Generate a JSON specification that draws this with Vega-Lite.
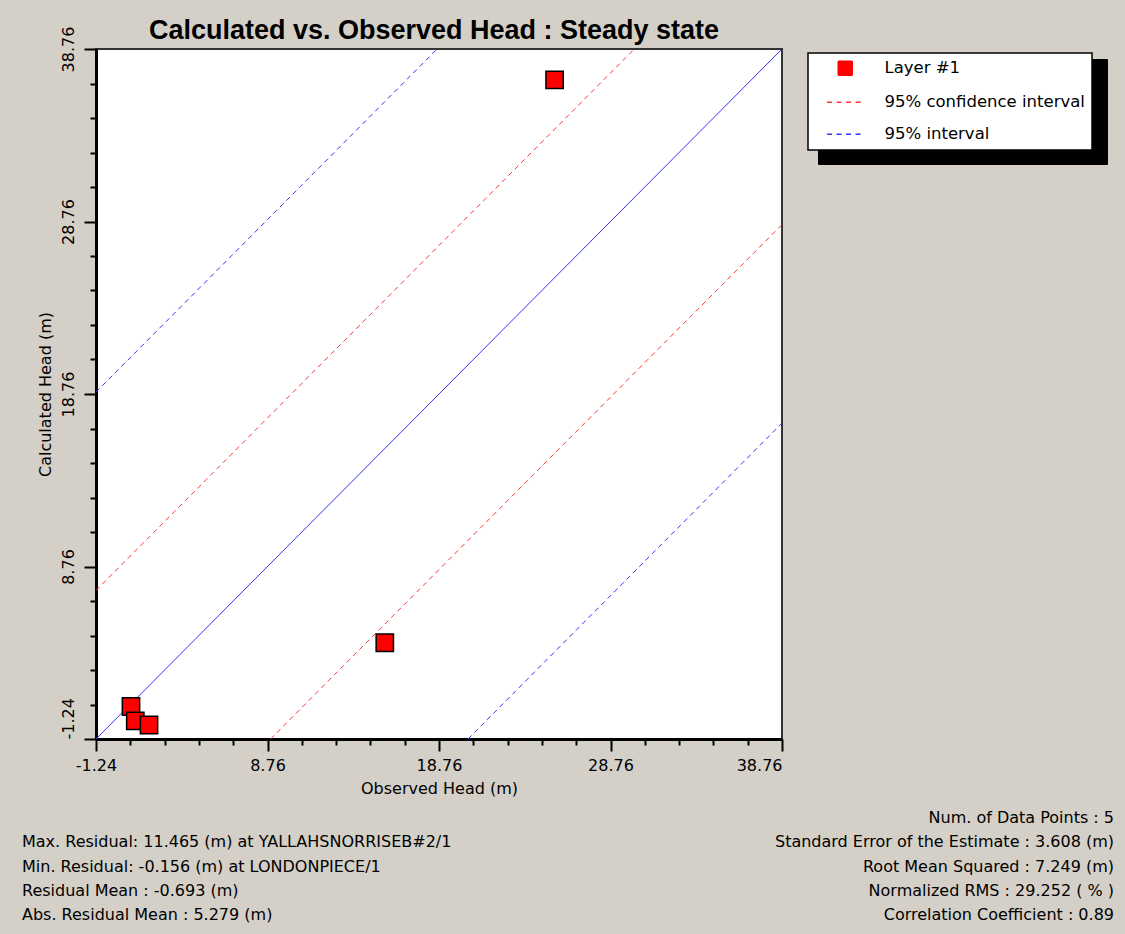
{
  "$schema": "https://vega.github.io/schema/vega-lite/v6.json",
  "background": "#d4d0c8",
  "padding": {"left": 22, "right": 11, "top": 16, "bottom": 11},
  "datasets": {
    "points": [
      {"series": "Layer #1", "well": "YALLAHSNORRISEB#2/1", "obs": 25.5, "calc": 36.965},
      {"series": "Layer #1", "well": "", "obs": 15.6, "calc": 4.34},
      {"series": "Layer #1", "well": "LONDONPIECE/1", "obs": 0.8, "calc": 0.644},
      {"series": "Layer #1", "well": "", "obs": 1.05, "calc": -0.19},
      {"series": "Layer #1", "well": "", "obs": 1.85, "calc": -0.43}
    ],
    "lines": [
      {"series": "1:1", "line": "1:1", "obs": -1.24, "calc": -1.24},
      {"series": "1:1", "line": "1:1", "obs": 38.76, "calc": 38.76},
      {"series": "95% confidence interval", "line": "ci_upper", "obs": -1.24, "calc": 7.37},
      {"series": "95% confidence interval", "line": "ci_upper", "obs": 30.15, "calc": 38.76},
      {"series": "95% confidence interval", "line": "ci_lower", "obs": 8.94, "calc": -1.24},
      {"series": "95% confidence interval", "line": "ci_lower", "obs": 38.76, "calc": 28.58},
      {"series": "95% interval", "line": "pi_upper", "obs": -1.24, "calc": 18.87},
      {"series": "95% interval", "line": "pi_upper", "obs": 18.65, "calc": 38.76},
      {"series": "95% interval", "line": "pi_lower", "obs": 20.45, "calc": -1.24},
      {"series": "95% interval", "line": "pi_lower", "obs": 38.76, "calc": 17.07}
    ],
    "stats": [
      {"col": "right", "row": 1, "text": "Num. of Data Points : 5"},
      {"col": "right", "row": 2, "text": "Standard Error of the Estimate : 3.608 (m)"},
      {"col": "right", "row": 3, "text": "Root Mean Squared : 7.249 (m)"},
      {"col": "right", "row": 4, "text": "Normalized RMS : 29.252 ( % )"},
      {"col": "right", "row": 5, "text": "Correlation Coefficient : 0.89"},
      {"col": "left", "row": 2, "text": "Max. Residual: 11.465 (m) at YALLAHSNORRISEB#2/1"},
      {"col": "left", "row": 3, "text": "Min. Residual: -0.156 (m) at LONDONPIECE/1"},
      {"col": "left", "row": 4, "text": "Residual Mean : -0.693 (m)"},
      {"col": "left", "row": 5, "text": "Abs. Residual Mean : 5.279 (m)"}
    ]
  },
  "config": {
    "view": {"stroke": null},
    "font": "DejaVu Sans",
    "axis": {
      "grid": false,
      "domainColor": "black",
      "domainWidth": 3,
      "tickColor": "black",
      "tickWidth": 2,
      "labelColor": "black",
      "labelFont": "DejaVu Sans",
      "labelFontSize": 16,
      "titleFont": "DejaVu Sans",
      "titleFontSize": 16,
      "titleFontWeight": "normal",
      "titleColor": "black",
      "labelFlush": false,
      "labelOverlap": false
    }
  },
  "vconcat": [
    {
      "width": 686,
      "height": 690,
      "view": {"fill": "white", "stroke": "#333333", "strokeWidth": 2},
      "title": {
        "text": "Calculated vs. Observed Head : Steady state",
        "font": "Liberation Sans",
        "fontSize": 27,
        "fontWeight": "bold",
        "color": "black",
        "anchor": "middle",
        "offset": -19,
        "dx": -5
      },
      "layer": [
        {
          "data": {"name": "lines"},
          "transform": [{"filter": "datum.series === '1:1'"}],
          "mark": {"type": "line", "color": "#3333ff", "strokeWidth": 1},
          "encoding": {
            "x": {
              "field": "obs",
              "type": "quantitative",
              "scale": {"domain": [-1.24, 38.76], "nice": false, "zero": false},
              "axis": {
                "title": "Observed Head (m)",
                "values": [-1.24, 0.76, 2.76, 4.76, 6.76, 8.76, 10.76, 12.76, 14.76, 16.76, 18.76, 20.76, 22.76, 24.76, 26.76, 28.76, 30.76, 32.76, 34.76, 36.76, 38.76],
                "tickCount": 40,
                "labelExpr": "(abs((datum.value + 1.24) % 10) < 0.01 || abs((datum.value + 1.24) % 10 - 10) < 0.01) ? '' + (round(datum.value * 100) / 100) : ''",
                "tickSize": {"condition": {"test": "abs((datum.value + 1.24) % 10) < 0.01 || abs((datum.value + 1.24) % 10 - 10) < 0.01", "value": 12}, "value": 6},
                "labelAlign": {"condition": {"test": "datum.value > 38", "value": "right"}, "value": "center"},
                "labelOverlap": false,
                "labelFlush": false,
                "labelPadding": 6,
                "titlePadding": 7
              }
            },
            "y": {
              "field": "calc",
              "type": "quantitative",
              "scale": {"domain": [-1.24, 38.76], "nice": false, "zero": false},
              "axis": {
                "title": "Calculated Head (m)",
                "values": [-1.24, 0.76, 2.76, 4.76, 6.76, 8.76, 10.76, 12.76, 14.76, 16.76, 18.76, 20.76, 22.76, 24.76, 26.76, 28.76, 30.76, 32.76, 34.76, 36.76, 38.76],
                "tickCount": 40,
                "labelExpr": "(abs((datum.value + 1.24) % 10) < 0.01 || abs((datum.value + 1.24) % 10 - 10) < 0.01) ? '' + (round(datum.value * 100) / 100) : ''",
                "tickSize": {"condition": {"test": "abs((datum.value + 1.24) % 10) < 0.01 || abs((datum.value + 1.24) % 10 - 10) < 0.01", "value": 12}, "value": 6},
                "labelAngle": 270,
                "labelBaseline": "bottom",
                "labelAlign": {"condition": {"test": "datum.value < 0", "value": "left"}, "value": "center"},
                "labelOverlap": false,
                "labelFlush": false,
                "labelPadding": 8,
                "titlePadding": 7
              }
            }
          }
        },
        {
          "data": {"name": "lines"},
          "transform": [{"filter": "datum.series !== '1:1'"}],
          "mark": {"type": "line", "strokeWidth": 1},
          "encoding": {
            "x": {"field": "obs", "type": "quantitative"},
            "y": {"field": "calc", "type": "quantitative"},
            "detail": {"field": "line"},
            "color": {
              "field": "series",
              "type": "nominal",
              "scale": {"domain": ["Layer #1", "95% confidence interval", "95% interval"], "range": ["#ff0000", "#ff3333", "#3333ff"]},
              "legend": {
                "title": null,
                "orient": "none",
                "legendX": 712,
                "legendY": 4,
                "zindex": 1,
                "fillColor": "white",
                "strokeColor": "black",
                "padding": 7,
                "rowPadding": 15,
                "symbolOffset": 22,
                "labelOffset": 31,
                "symbolSize": 196,
                "labelLimit": 400,
                "labelFont": "DejaVu Sans",
                "labelFontSize": 16.5,
                "labelColor": "black",
                "encode": {
                  "legend": {"update": {"strokeWidth": {"value": 1.5}}},
                  "symbols": {
                    "update": {
                      "shape": {"signal": "datum.value === 'Layer #1' ? 'square' : 'M-2.6,0H2.6'"},
                      "fill": {"signal": "datum.value === 'Layer #1' ? '#ff0000' : 'transparent'"},
                      "stroke": {"signal": "datum.value === 'Layer #1' ? 'black' : (datum.value === '95% interval' ? '#3333ff' : '#ff3333')"},
                      "strokeDash": {"signal": "datum.value === 'Layer #1' ? [1, 0] : [5, 4.5]"},
                      "strokeWidth": {"value": 1.5},
                      "opacity": {"value": 1},
                      "fillOpacity": {"value": 1},
                      "strokeOpacity": {"value": 1}
                    }
                  }
                }
              }
            },
            "strokeDash": {
              "field": "series",
              "type": "nominal",
              "scale": {"domain": ["95% interval", "95% confidence interval", "Layer #1"], "range": [[5, 4], [5, 4], [1, 0]]},
              "legend": {
                "title": null,
                "orient": "none",
                "legendX": 722,
                "legendY": 10,
                "zindex": 0,
                "fillColor": "black",
                "strokeColor": "black",
                "padding": 9.5,
                "rowPadding": 17.5,
                "symbolOffset": 22,
                "labelOffset": 31,
                "symbolSize": 196,
                "labelLimit": 400,
                "labelFont": "DejaVu Sans",
                "labelFontSize": 16.5,
                "labelColor": "black",
                "labelOpacity": 0,
                "symbolOpacity": 0,
                "symbolStrokeColor": "black"
              }
            }
          }
        },
        {
          "data": {"name": "points"},
          "mark": {"type": "square", "size": 300, "stroke": "black", "strokeWidth": 1.5, "opacity": 1, "filled": true},
          "encoding": {
            "x": {"field": "obs", "type": "quantitative"},
            "y": {"field": "calc", "type": "quantitative"},
            "color": {"field": "series", "type": "nominal"}
          }
        }
      ]
    },
    {
      "width": 1018,
      "height": 121.5,
      "view": {"stroke": null, "fill": null},
      "data": {"name": "stats"},
      "encoding": {
        "x": {"field": "col", "type": "nominal", "scale": {"type": "point", "domain": ["left", "right"], "padding": 0}, "axis": null},
        "y": {"field": "row", "type": "ordinal", "scale": {"type": "point", "domain": [1, 2, 3, 4, 5], "padding": 0.5}, "axis": null},
        "text": {"field": "text"}
      },
      "layer": [
        {
          "transform": [{"filter": "datum.col === 'left'"}],
          "mark": {"type": "text", "align": "left", "baseline": "middle", "dx": -74, "font": "DejaVu Sans", "fontSize": 16, "color": "black"}
        },
        {
          "transform": [{"filter": "datum.col === 'right'"}],
          "mark": {"type": "text", "align": "right", "baseline": "middle", "font": "DejaVu Sans", "fontSize": 16, "color": "black"}
        }
      ]
    }
  ],
  "spacing": 67,
  "bounds": "flush"
}
